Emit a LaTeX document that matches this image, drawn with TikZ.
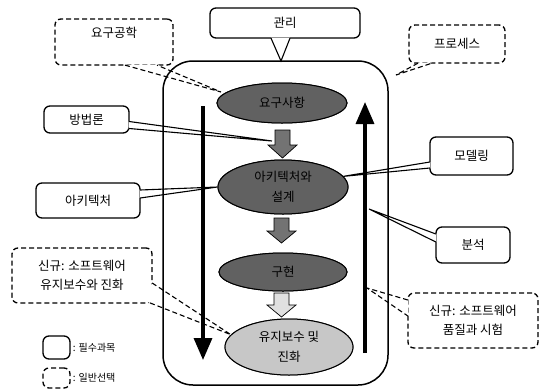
\documentclass[tikz,border=0pt]{standalone}
\usepackage{fontspec}
\setmainfont{Noto Sans CJK KR}
\usetikzlibrary{shapes.geometric,arrows.meta,calc}
\begin{document}
\begin{tikzpicture}[x=1pt,y=-1pt,
  cbox/.style={draw, line width=1.3pt, rounded corners=6pt, fill=white, inner sep=0pt},
  dbox/.style={cbox, dash pattern=on 5pt off 3pt},
  lbl/.style={font=\fontsize{12.5}{19.5}\selectfont, align=center, inner sep=0pt},
  small/.style={font=\fontsize{10}{12}\selectfont, inner sep=1pt, anchor=west},
  ell/.style={ellipse, draw, line width=1pt, inner sep=0pt, font=\fontsize{12.5}{19.5}\selectfont, align=center},
  dark/.style={fill=black!62},
  light/.style={fill=black!22},
  blkd/.style={draw, line width=0.7pt, fill=black!55},
  blkl/.style={draw, line width=0.7pt, fill=black!12},
  flow/.style={line width=3.4pt, -{Triangle[width=18pt,length=22pt]}},
  tail/.style={line width=1.1pt},
  dtail/.style={line width=1.1pt, dash pattern=on 5pt off 3pt},
]
\useasboundingbox (0,0) rectangle (546,389);

% callout boxes
\node[cbox, minimum width=150pt, minimum height=30pt] (mgmt) at (285,23) {};
\node[lbl] (mgmt-t) at (mgmt) {관리};
\node[dbox, minimum width=118pt, minimum height=46pt] (req) at (114,42) {};
\node[lbl] (req-t) at ($(req)+(0,-9)$) {요구공학};
\node[dbox, minimum width=96pt, minimum height=38pt] (proc) at (457,44) {};
\node[lbl] (proc-t) at (proc) {프로세스};
\node[cbox, minimum width=85pt, minimum height=27pt] (method) at (86.5,119.5) {};
\node[lbl] (method-t) at (method) {방법론};
\node[cbox, minimum width=104pt, minimum height=35pt] (arch) at (88,200.5) {};
\node[lbl] (arch-t) at (arch) {아키텍처};
\node[cbox, minimum width=83pt, minimum height=38pt] (model) at (471.5,156) {};
\node[lbl] (model-t) at (model) {모델링};
\node[cbox, minimum width=74pt, minimum height=36pt] (anal) at (473,245) {};
\node[lbl] (anal-t) at (anal) {분석};
\node[dbox, minimum width=140pt, minimum height=55pt] (maint) at (82,275.5) {};
\node[lbl] (maint-t) at (maint) {신규: 소프트웨어\\유지보수와 진화};
\node[dbox, minimum width=130pt, minimum height=55pt] (qual) at (473,320.5) {};
\node[lbl] (qual-t) at (qual) {신규: 소프트웨어\\품질과 시험};

% legend
\node[cbox, minimum width=27pt, minimum height=23pt] (leg1) at (56.5,347.5) {};
\node[small] (leg1-t) at ($(leg1.east)+(1,0)$) {: 필수과목};
\node[dbox, minimum width=27pt, minimum height=20pt] (leg2) at (56.5,378) {};
\node[small] (leg2-t) at ($(leg2.east)+(1,0)$) {: 일반선택};

% positions
\coordinate (dtop) at (203,106);
\coordinate (dbot) at (203,360);
\coordinate (ubot) at (365,353);
\coordinate (utop) at (365,102);
\coordinate (t-method) at (272,141);
\coordinate (t-anal) at (369,209);
\coordinate (t-qual) at (367,288);
\coordinate (t-req) at (221,92);
\coordinate (t-proc) at (396,75);
\coordinate (t-mgmt) at (281,61);

\node[ell, dark, minimum width=130pt, minimum height=40pt] (e1) at (282,103) {요구사항};
\node[ell, dark, minimum width=130pt, minimum height=54pt] (e2) at (283,187) {아키텍처와\\설계};
\node[ell, dark, minimum width=128pt, minimum height=38pt] (e3) at (283,272) {구현};
\node[ell, light, minimum width=128pt, minimum height=56pt] (e4) at (289,347) {유지보수 및\\진화};

% callout tails
\fill[white] ($(mgmt.south)+(-14,-1)$) -- (t-mgmt) -- ($(mgmt.south)+(5,-1)$) -- cycle;
\draw[tail] ($(mgmt.south)+(-14,-0.5)$) -- (t-mgmt) -- ($(mgmt.south)+(5,-0.5)$);
\fill[white] ($(req.south)+(11,-1)$) -- (t-req) -- ($(req.south)+(43,-1)$) -- cycle;
\draw[dtail] ($(req.south)+(11,-0.5)$) -- (t-req) -- ($(req.south)+(43,-0.5)$);
\fill[white] ($(proc.south)+(-39,-1)$) -- (t-proc) -- ($(proc.south)+(-25,-1)$) -- cycle;
\draw[dtail] ($(proc.south)+(-39,-0.5)$) -- (t-proc) -- ($(proc.south)+(-25,-0.5)$);
\fill[white] ($(method.east)+(-1,2)$) -- (t-method) -- ($(method.east)+(-1,9)$) -- cycle;
\draw[tail] ($(method.east)+(-0.5,2)$) -- (t-method) -- ($(method.east)+(-0.5,9)$);
\fill[white] ($(arch.east)+(-1,-10.5)$) -- (e2.west) -- ($(arch.east)+(-1,-2.5)$) -- cycle;
\draw[tail] ($(arch.east)+(-0.5,-10.5)$) -- (e2.west) -- ($(arch.east)+(-0.5,-2.5)$);
\fill[white] ($(model.west)+(1,6)$) -- (e2.10) -- ($(model.west)+(1,12)$) -- cycle;
\draw[tail] ($(model.west)+(0.5,6)$) -- (e2.10) -- ($(model.west)+(0.5,12)$);
\fill[white] ($(anal.west)+(1,-11)$) -- (t-anal) -- ($(anal.west)+(1,-3)$) -- cycle;
\draw[tail] ($(anal.west)+(0.5,-11)$) -- (t-anal) -- ($(anal.west)+(0.5,-3)$);
\fill[white] ($(maint.east)+(-1,7.5)$) -- (e4.168) -- ($(maint.east)+(-5,26.5)$) -- cycle;
\draw[dtail] ($(maint.east)+(-0.5,7.5)$) -- (e4.168) -- ($(maint.east)+(-5,26.5)$);
\fill[white] ($(qual.west)+(1,-20.5)$) -- (t-qual) -- ($(qual.west)+(1,-4.5)$) -- cycle;
\draw[dtail] ($(qual.west)+(0.5,-20.5)$) -- (t-qual) -- ($(qual.west)+(0.5,-4.5)$);

% frame
\node[draw, line width=1.5pt, rounded corners=30pt, minimum width=225pt, minimum height=324pt, inner sep=0pt] (frame) at (275.5,223) {};

% flow arrows
\draw[flow] (dtop) -- (dbot);
\draw[flow] (ubot) -- (utop);

% redraw ellipses on top
\node[ell, dark, minimum width=130pt, minimum height=40pt] at (e1) {요구사항};
\node[ell, dark, minimum width=130pt, minimum height=54pt] at (e2) {아키텍처와\\설계};
\node[ell, dark, minimum width=128pt, minimum height=38pt] at (e3) {구현};
\node[ell, light, minimum width=128pt, minimum height=56pt] at (e4) {유지보수 및\\진화};

% block arrows between stages
\coordinate (b1) at (282.5,130);
\coordinate (b2) at (281.5,218);
\coordinate (b3) at (281.5,293);
\draw[blkd] (b1) ++(-7.5,0) -- ++(15,0) -- ++(0,15) -- ++(7,0) -- ++(-14.5,13) -- ++(-14.5,-13) -- ++(7,0) -- cycle;
\draw[blkd] (b2) ++(-7.5,0) -- ++(15,0) -- ++(0,13) -- ++(7,0) -- ++(-14.5,12) -- ++(-14.5,-12) -- ++(7,0) -- cycle;
\draw[blkl] (b3) ++(-7.5,0) -- ++(15,0) -- ++(0,12) -- ++(7,0) -- ++(-14.5,12) -- ++(-14.5,-12) -- ++(7,0) -- cycle;
\end{tikzpicture}
\end{document}
